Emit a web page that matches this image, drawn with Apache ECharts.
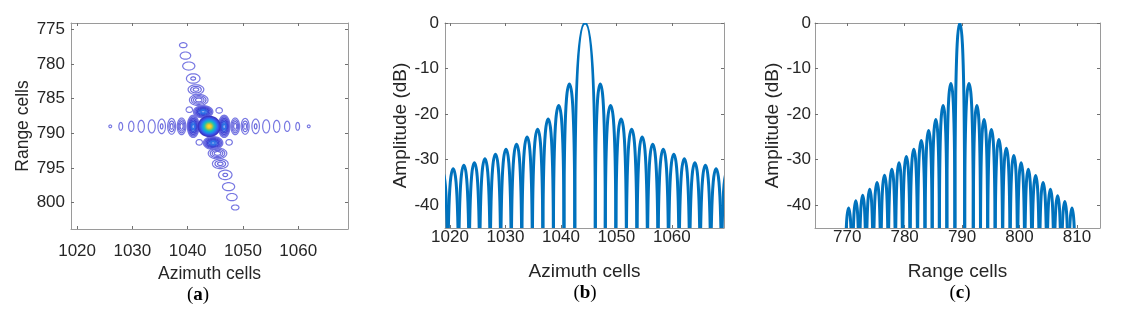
<!DOCTYPE html>
<html><head><meta charset="utf-8">
<script src="https://cdn.jsdelivr.net/npm/echarts@6/dist/echarts.min.js"></script>
<style>html,body{margin:0;padding:0;background:#fff}#c{width:1126px;height:323px}</style>
</head><body><div id="c"></div>
<script>
// ---------- Panel (a): contour lobes (azimuth cell, range cell, half-width in cells, rings; 0 = dense) ----------
const contourAz = [1026.0,1027.9,1029.8,1031.6,1033.5,1035.3,1037.1,1038.9,1041.0,
  1046.6,1048.6,1050.4,1052.3,1054.2,1056.1,1058.0,1059.9,1061.9,
  1042.8,1042.0,1041.5,1041.0,1040.2,1039.6,1039.2,
  1044.6,1045.4,1045.9,1046.8,1047.4,1048.0,1048.6,
  1040.3,1045.7,1042.1,1047.5];
const contourRg = [789,789,789,789,789,789,789,789,789,
  789,789,789,789,789,789,789,789,789,
  786.9,785.2,783.7,782.1,780.3,778.8,777.3,
  791.4,792.9,794.4,796.0,797.7,799.2,800.7,
  786.6,786.7,791.3,791.3];
const contourRx = [0.25,0.34,0.48,0.57,0.63,0.68,0.72,0.78,1.05,
  1.05,0.78,0.72,0.68,0.63,0.57,0.48,0.34,0.25,
  1.75,1.68,1.42,1.22,1.1,0.95,0.68,
  1.75,1.68,1.42,1.22,1.1,0.95,0.68,
  0.58,0.58,0.58,0.58];
const contourRy = [0.2,0.56,0.74,0.86,0.95,1.05,1.14,1.2,1.6,
  1.6,1.2,1.14,1.05,0.95,0.86,0.74,0.56,0.2,
  0.88,0.8,0.7,0.68,0.58,0.52,0.36,
  0.92,0.78,0.7,0.68,0.58,0.52,0.36,
  0.4,0.4,0.4,0.4];
const contourRings = [1,1,1,1,1,2,3,4,0,
  0,4,3,2,1,1,1,1,1,
  0,4,3,2,1,1,1,
  0,4,3,2,1,1,1,
  1,1,1,1];
const peakAz = [1043.9], peakRg = [789.0], peakRx = [2.1], peakRy = [1.55];

// ---------- Panel (b): azimuth profile (null positions, lobe peak levels in dB) ----------
const azNulls = [1017.7,1019.6,1021.55,1023.45,1025.35,1027.25,1029.15,1031.05,1032.95,1034.85,1036.75,1038.65,1040.55,1042.5,
  1046.2,1048.0,1049.9,1051.8,1053.7,1055.6,1057.5,1059.4,1061.3,1063.2,1065.1,1067.0,1068.95,1070.9];
const azPeaksDb = [-32.6,-32.0,-31.2,-30.7,-29.8,-28.8,-27.7,-26.6,-25.0,-23.3,-21.1,-18.1,-13.4,0,
  -13.4,-18.1,-21.1,-23.3,-25.0,-26.6,-27.7,-28.8,-29.8,-30.7,-31.2,-32.0,-32.6];

// ---------- Panel (c): range profile ----------
const rgNulls = [769.6,770.9,772.1,773.3,774.55,775.85,777.15,778.4,779.65,780.95,782.25,783.55,784.8,786.05,787.35,788.75,
  790.45,791.95,793.2,794.45,795.75,797.05,798.35,799.65,800.9,802.15,803.45,804.75,806.0,807.25,808.5,809.75];
const rgPeaksDb = [-40.6,-39.0,-37.8,-36.5,-35.0,-33.4,-32.1,-30.7,-29.3,-27.7,-25.8,-23.6,-21.2,-18.1,-13.3,0,
  -13.3,-18.1,-21.2,-23.4,-25.6,-27.5,-29.1,-30.7,-32.1,-33.5,-35.0,-36.5,-37.9,-39.2,-40.6];

// ---------- ticks ----------
const aXTicks = [1020,1030,1040,1050,1060];
const aYTicks = [775,780,785,790,795,800];
const bXTicks = [1020,1030,1040,1050,1060];
const dbTicks = [-40,-30,-20,-10,0];
const cXTicks = [770,780,790,800,810];

// ---------- build ----------
const FONT = 'Liberation Sans';
const TXT = '#262626';
const LINE = '#9a9a9a';

function lobes(nulls, peaks){
  const out = [];
  for (let i = 0; i < peaks.length; i++) out.push([nulls[i], nulls[i+1], peaks[i]]);
  return out;
}
const contourData = contourAz.map((v,i)=>[v, contourRg[i], contourRx[i], contourRy[i], contourRings[i]]);
const peakData = peakAz.map((v,i)=>[v, peakRg[i], peakRx[i], peakRy[i]]);

function ellipsePts(c, rx, ry){
  const pts = [];
  for (let k = 0; k < 48; k++){ const t = k/48*Math.PI*2; pts.push([c[0]+rx*Math.cos(t), c[1]+ry*Math.sin(t)]); }
  return pts;
}
function contourRender(params, api){
  const x = api.value(0), y = api.value(1);
  const c = api.coord([x, y]);
  const s = api.size([api.value(2), api.value(3)], [x, y]);
  const n = api.value(4);
  const children = [];
  if (n === 0){
    const cols = ['#7676e2','#5f5fdc','#4b4bd6','#3d42d2','#3450da','#2e62e0','#2a74e6'];
    const sc = [1,0.86,0.72,0.58,0.45,0.32,0.2];
    children.push({type:'polygon', shape:{points:ellipsePts(c, s[0], s[1])}, style:{fill:'rgba(60,80,220,0.4)', stroke:null}});
    sc.forEach((f,k)=>children.push({type:'polygon', shape:{points:ellipsePts(c, s[0]*f, s[1]*f)}, style:{fill:'none', stroke:cols[k], lineWidth:1.3}}));
  } else {
    for (let k = 0; k < n; k++){
      const f = n === 1 ? 1 : 1 - 0.65*k/(n-1);
      children.push({type:'polygon', shape:{points:ellipsePts(c, Math.max(s[0]*f,1.2), Math.max(s[1]*f,1.2))}, style:{fill:'none', stroke: k === 0 ? '#7878e2' : '#6a6ade', lineWidth:1.2}});
    }
  }
  return {type:'group', children};
}
function peakRender(params, api){
  const x = api.value(0), y = api.value(1);
  const c = api.coord([x, y]);
  const s = api.size([api.value(2), api.value(3)], [x, y]);
  const cols = ['#3a36c4','#3a4ce0','#2f6cef','#1f8fe8','#13acd4','#28bcae','#62c47c','#b0c24c','#e8c635','#f9d92a'];
  const sc = [1,0.88,0.77,0.66,0.56,0.47,0.38,0.3,0.22,0.13];
  return {type:'group', children: sc.map((f,k)=>({type:'polygon', shape:{points:ellipsePts(c, s[0]*f, s[1]*f)}, style:{fill:cols[k], stroke:null}}))};
}
function lobeRender(params, api){
  const nl = api.value(0), nr = api.value(1), pk = api.value(2);
  const floor = Math.min(pk - 30, -46);
  const mid = (nl + nr)/2;
  const p0 = api.coord([nl, floor]), pp = api.coord([mid, pk]), p1 = api.coord([nr, floor]);
  const A = 0.4, B = 0.9;
  const d = 'M' + p0[0] + ' ' + p0[1] +
    ' C' + p0[0] + ' ' + (p0[1] + A*(pp[1]-p0[1])) + ' ' + (p0[0] + (1-B)*(pp[0]-p0[0])) + ' ' + pp[1] + ' ' + pp[0] + ' ' + pp[1] +
    ' C' + (p1[0] + (1-B)*(pp[0]-p1[0])) + ' ' + pp[1] + ' ' + p1[0] + ' ' + (p1[1] + A*(pp[1]-p1[1])) + ' ' + p1[0] + ' ' + p1[1];
  return {type:'path', shape:{pathData:d}, style:{fill:'none', stroke:'#0072bd', lineWidth:3}};
}

const grids = [
  {left:71, top:23, width:277, height:206},
  {left:445, top:23, width:279, height:205},
  {left:815, top:23, width:285, height:205}
];
const plain = v => String(v);

function xAxes(gi, min, max, ticks, name, labelMargin, nameGap, nameSize){
  const base = {type:'value', gridIndex:gi, min, max, axisLine:{show:true, onZero:false, lineStyle:{color:LINE, width:1}},
    axisTick:{show:true, inside:true, length:3, customValues:ticks, lineStyle:{color:'#707070'}}, splitLine:{show:false}};
  return [
    Object.assign({}, base, {position:'bottom', name, nameLocation:'middle', nameGap,
      nameTextStyle:{fontFamily:FONT, fontSize:nameSize, color:TXT},
      axisLabel:{show:true, customValues:ticks, formatter:plain, margin:labelMargin, fontFamily:FONT, fontSize:17, color:TXT}}),
    Object.assign({}, base, {position:'top', axisLabel:{show:false}})
  ];
}
function yAxes(gi, min, max, ticks, name, inverse, labelMargin, nameGap, nameSize){
  const base = {type:'value', gridIndex:gi, min, max, inverse, axisLine:{show:true, onZero:false, lineStyle:{color:LINE, width:1}},
    axisTick:{show:true, inside:true, length:3, customValues:ticks, lineStyle:{color:'#707070'}}, splitLine:{show:false}};
  return [
    Object.assign({}, base, {position:'left', name, nameLocation:'middle', nameGap,
      nameTextStyle:{fontFamily:FONT, fontSize:nameSize, color:TXT},
      axisLabel:{show:true, customValues:ticks, formatter:plain, margin:labelMargin, fontFamily:FONT, fontSize:17, color:TXT}}),
    Object.assign({}, base, {position:'right', axisLabel:{show:false}})
  ];
}

const xAxis = [].concat(
  xAxes(0, 1018.9, 1069, aXTicks, 'Azimuth cells', 14, 35, 17.5),
  xAxes(1, 1019.1, 1069.4, bXTicks, 'Azimuth cells', 1, 34, 19),
  xAxes(2, 764.4, 814, cXTicks, 'Range cells', 1, 34, 19)
);
const yAxis = [].concat(
  yAxes(0, 774.1, 803.8, aYTicks, 'Range cells', true, 6, 39, 17.5),
  yAxes(1, -45, 0, dbTicks, 'Amplitude (dB)', false, 6, 35, 19),
  yAxes(2, -45, 0, dbTicks, 'Amplitude (dB)', false, 4, 30, 19)
);

function caption(letter, cx, cy){
  return {type:'text', x:cx, y:cy, style:{text:'{p|(}{b|' + letter + '}{p|)}', align:'center', verticalAlign:'middle',
    rich:{p:{fontFamily:'Liberation Serif', fontSize:19, color:'#000'}, b:{fontFamily:'Liberation Serif', fontSize:19, fontWeight:'bold', color:'#000'}}}};
}

const chart = echarts.init(document.getElementById('c'), null, {renderer:'canvas'});
chart.setOption({
  animation:false,
  backgroundColor:'#fff',
  grid: grids,
  xAxis, yAxis,
  series: [
    {type:'custom', xAxisIndex:0, yAxisIndex:0, data:contourData, renderItem:contourRender, clip:true, silent:true},
    {type:'custom', xAxisIndex:0, yAxisIndex:0, data:peakData, renderItem:peakRender, clip:true, silent:true},
    {type:'custom', xAxisIndex:2, yAxisIndex:2, data:lobes(azNulls, azPeaksDb), renderItem:lobeRender, clip:true, silent:true},
    {type:'custom', xAxisIndex:4, yAxisIndex:4, data:lobes(rgNulls, rgPeaksDb), renderItem:lobeRender, clip:true, silent:true}
  ],
  graphic: [caption('a', 198, 295), caption('b', 585, 293), caption('c', 960, 293)]
});
</script>
</body></html>
